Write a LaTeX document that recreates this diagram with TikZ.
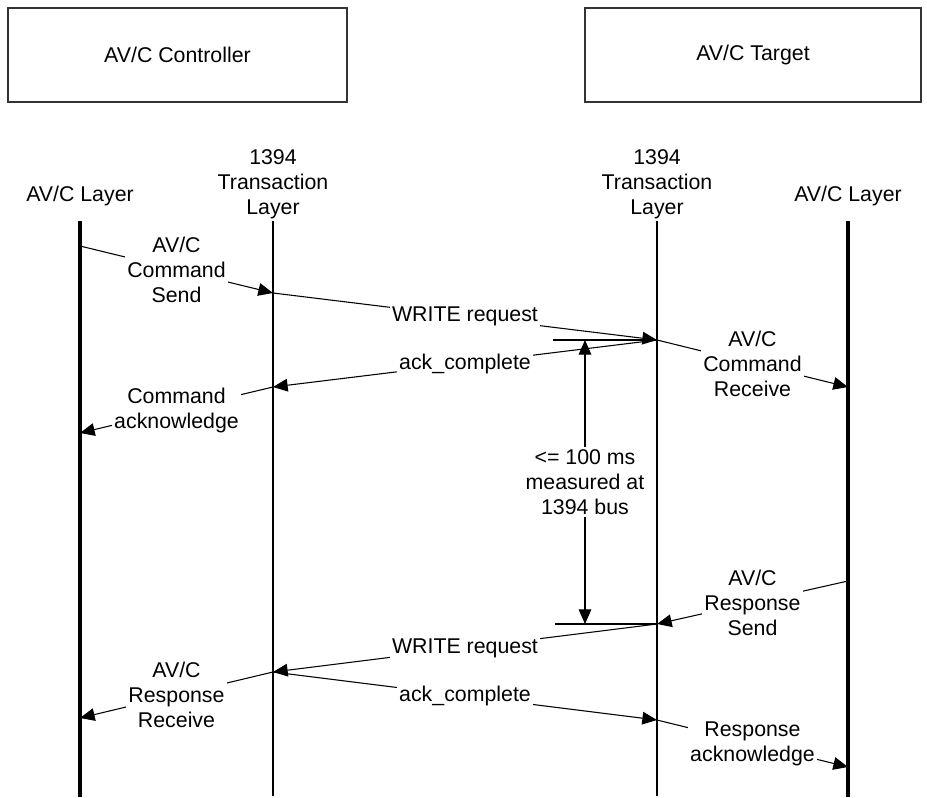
\documentclass[tikz,border=0pt]{standalone}
\usepackage{fontspec}
\setmainfont{Liberation Sans}
\usetikzlibrary{arrows.meta}
\begin{document}
\begin{tikzpicture}[x=0.75pt,y=-0.75pt,
  txt/.style={font=\fontsize{16}{18.75}\selectfont, align=center, inner sep=1.5pt},
  lbl/.style={txt, fill=white, midway},
  msg/.style={line width=0.8pt, -{Triangle[length=11pt,width=9.5pt]}},
  timing/.style={line width=0.8pt, {Triangle[length=11pt,width=9.5pt]}-{Triangle[length=11pt,width=9.5pt]}},
  tick/.style={line width=0.8pt},
  thinlife/.style={line width=0.8pt},
  thicklife/.style={line width=2.4pt},
  sysbox/.style={draw=black!80, line width=1.2pt, txt, minimum height=70.5pt}]
\useasboundingbox (0,0) rectangle (927,798);

% system boxes
\node[sysbox, minimum width=254.25pt] (ctl) at (177.5,55) {AV/C Controller};
\node[sysbox, minimum width=252pt] (tgt) at (753,55) {AV/C Target};

% lifeline headings
\node[txt] (hA) at (80,196) {AV/C Layer};
\node[txt] (hB) at (273,184) {1394\\Transaction\\Layer};
\node[txt] (hC) at (657,184) {1394\\Transaction\\Layer};
\node[txt] (hD) at (848,196) {AV/C Layer};

% lifelines
\coordinate (A0) at (80,221);  \coordinate (A1) at (80,797);
\coordinate (B0) at (273,221); \coordinate (B1) at (273,796);
\coordinate (C0) at (657,221); \coordinate (C1) at (657,796);
\coordinate (D0) at (848,221); \coordinate (D1) at (848,797);
\draw[thicklife] (A0) -- (A1);
\draw[thinlife]  (B0) -- (B1);
\draw[thinlife]  (C0) -- (C1);
\draw[thicklife] (D0) -- (D1);

% event points on the lifelines
\coordinate (a1) at (80,246);
\coordinate (b1) at (273,293);
\coordinate (c1) at (657,340);
\coordinate (d1) at (848,387);
\coordinate (b2) at (273,387);
\coordinate (a2) at (80,433);
\coordinate (d3) at (848,581);
\coordinate (c3) at (657,624);
\coordinate (b3) at (273,672);
\coordinate (a3) at (80,718);
\coordinate (c4) at (657,720);
\coordinate (d4) at (848,767);

% command exchange
\draw[msg] (a1) -- (b1) node[lbl] (m1) {AV/C\\Command\\Send};
\draw[msg] (b1) -- (c1) node[lbl] (m2) {WRITE request};
\draw[msg] (c1) -- (d1) node[lbl] (m3) {AV/C\\Command\\Receive};
\draw[msg] (c1) -- (b2) node[lbl] (m4) {ack\_complete};
\draw[msg] (b2) -- (a2) node[lbl] (m5) {Command\\acknowledge};

% response exchange
\draw[msg] (d3) -- (c3) node[lbl] (m6) {AV/C\\Response\\Send};
\draw[msg] (c3) -- (b3) node[lbl] (m7) {WRITE request};
\draw[msg] (b3) -- (a3) node[lbl] (m8) {AV/C\\Response\\Receive};
\draw[msg] (b3) -- (c4) node[lbl] (m9) {ack\_complete};
\draw[msg] (c4) -- (d4) node[lbl] (m10) {Response\\acknowledge};

% response time bound
\coordinate (t1l) at (553,340);
\coordinate (t2l) at (555,624);
\coordinate (t1) at (585,340);
\coordinate (t2) at (585,624);
\draw[tick] (t1l) -- (c1);
\draw[tick] (t2l) -- (c3);
\draw[timing] (t2) -- (t1) node[lbl] (tl) {<= 100 ms\\measured at\\1394 bus};
\end{tikzpicture}
\end{document}
